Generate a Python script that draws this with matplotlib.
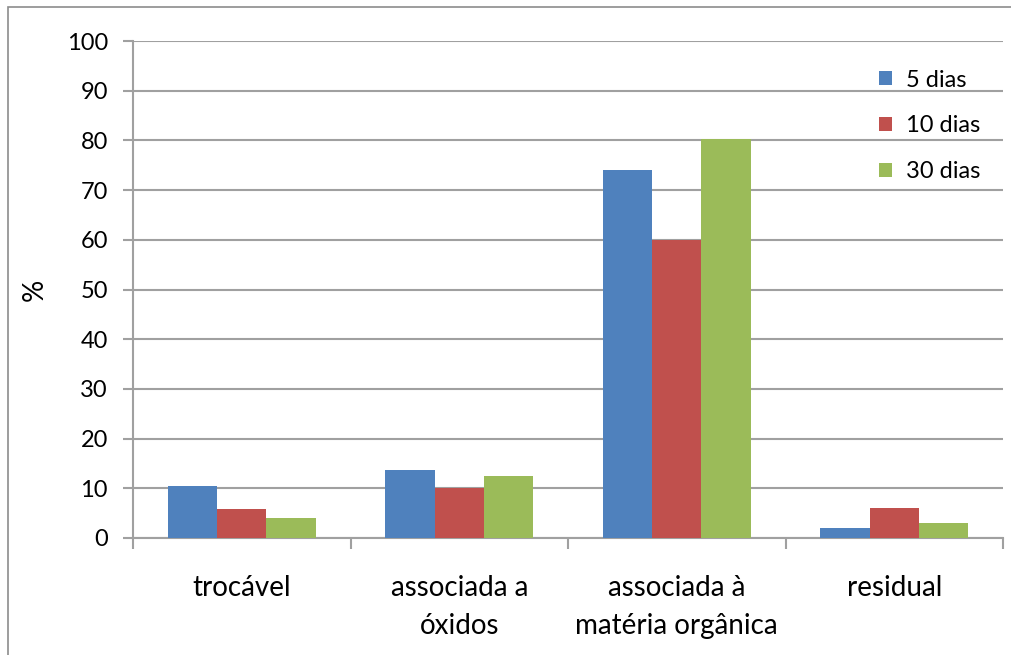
import numpy as np
import matplotlib.pyplot as plt
from matplotlib.patches import Rectangle

categories = ["trocável", "associada a\nóxidos", "associada à\nmatéria orgânica", "residual"]
series_names = ["5 dias", "10 dias", "30 dias"]
dias_5 = [10.5, 13.7, 74.0, 2.0]
dias_10 = [5.8, 10.0, 60.0, 6.0]
dias_30 = [4.0, 12.5, 80.2, 3.0]
y_ticks = list(range(0, 101, 10))

colors = ["#4F81BD", "#C0504D", "#9BBB59"]
grid_color = "#A0A0A0"

plt.rcParams["font.family"] = ["Lato", "DejaVu Sans"]

W, H = 1011, 655
fig = plt.figure(figsize=(W / 100, H / 100), dpi=100)

# plot area in pixels: left 133, right 1003, top 41, bottom 538
ax = fig.add_axes([133 / W, 1 - 538 / H, (1003 - 133) / W, (538 - 41) / H])

# outer chart frame
fig.patches.append(Rectangle((8 / W, -0.01), 1.01, 1 - 7 / H + 0.01,
                             transform=fig.transFigure, fill=False,
                             edgecolor="#8C8C8C", linewidth=1.2))

x = np.arange(len(categories))
width = 0.227
for i, (vals, name) in enumerate(zip([dias_5, dias_10, dias_30], series_names)):
    ax.bar(x + (i - 1) * width, vals, width, color=colors[i], label=name, zorder=3)

ax.set_xlim(-0.5, len(categories) - 0.5)
ax.set_ylim(0, 100)
ax.set_yticks(y_ticks)
ax.tick_params(axis="y", labelsize=17, length=7, width=1.5, color=grid_color, pad=11)
ax.yaxis.grid(True, color=grid_color, linewidth=1.5, zorder=0)

# category boundaries as x ticks, labels centred below
ax.set_xticks(np.arange(len(categories) + 1) - 0.5)
ax.set_xticklabels([])
ax.tick_params(axis="x", length=8, width=1.5, color=grid_color, direction="out")
for xi, label in zip(x, categories):
    ax.annotate(label, (xi, 0), xycoords=("data", "axes fraction"),
                xytext=(0, -27), textcoords="offset points",
                ha="center", va="top", fontsize=20, linespacing=1.55)

for side in ["top", "right"]:
    ax.spines[side].set_visible(False)
for side in ["left", "bottom"]:
    ax.spines[side].set_color(grid_color)
    ax.spines[side].set_linewidth(1.5)

ax.set_ylabel("%", fontsize=20, labelpad=14)

ax.legend(loc="upper left", bbox_to_anchor=(725 / 870, 0.985), frameon=False,
          fontsize=17, handlelength=0.55, handleheight=0.55, handletextpad=0.6,
          labelspacing=1.05)

fig.savefig("out.png", dpi=100)
